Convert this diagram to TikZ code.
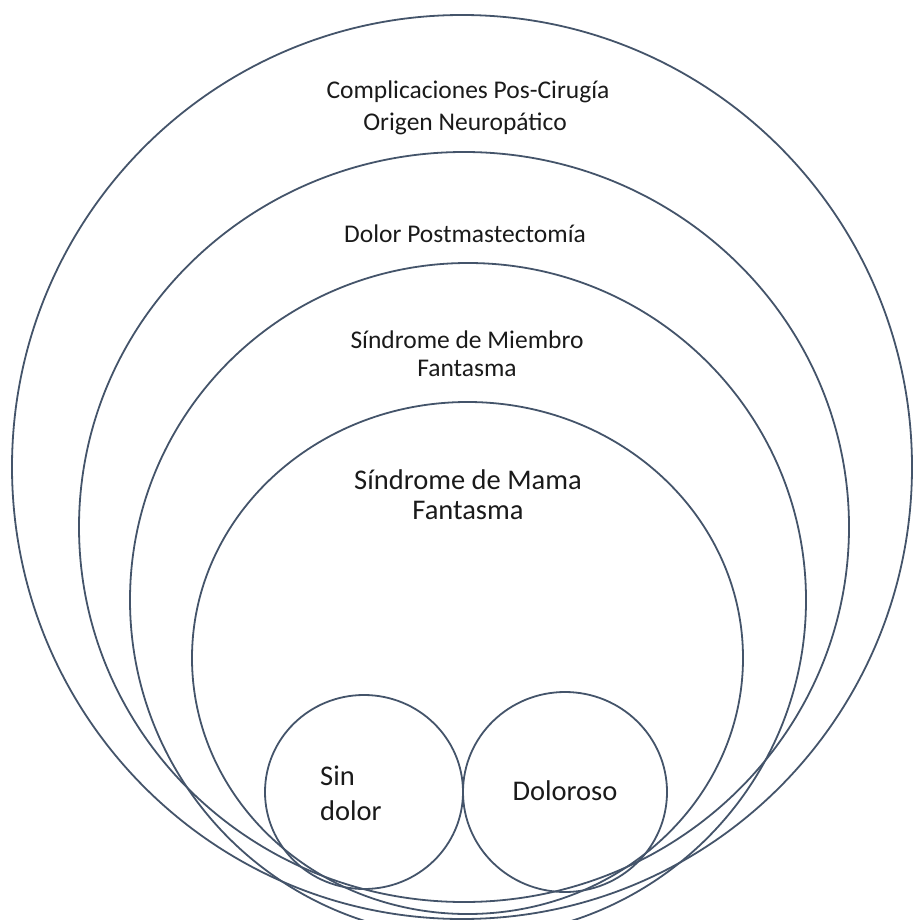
\documentclass[tikz,border=0pt]{standalone}
\usepackage{fontspec}
\setmainfont{Carlito}
\definecolor{ringcol}{HTML}{44546A}
\definecolor{txtcol}{HTML}{1A1A1A}
\begin{document}
\begin{tikzpicture}[x=1pt,y=-1pt,
  ring/.style={draw=ringcol, line width=1.8pt},
  lblA/.style={font=\fontsize{25.5}{31}\selectfont, text=txtcol, inner sep=0pt, anchor=base},
  lblB/.style={font=\fontsize{28.5}{34}\selectfont, text=txtcol, inner sep=0pt, anchor=base},
  lblBw/.style={lblB, anchor=base west}]
\useasboundingbox (0,0) rectangle (913,920);
% nested rings
\draw[ring] (462,467) ellipse [x radius=450, y radius=452];
\draw[ring] (464,527) ellipse [x radius=385, y radius=375];
\draw[ring] (468,600) ellipse [x radius=338, y radius=337];
\draw[ring] (467.5,658) ellipse [x radius=275.5, y radius=256];
% inner circles
\draw[ring] (364,792) ellipse [x radius=99, y radius=97];
\draw[ring] (565,792) ellipse [x radius=102, y radius=100];
% labels
\node[lblA] (t1) at (468,99) {Complicaciones Pos-Cirugía};
\node[lblA] (t2) at (465,131) {Origen Neuropático};
\node[lblA] (t3) at (465,242) {Dolor Postmastectomía};
\node[lblA] (t4a) at (467,348) {Síndrome de Miembro};
\node[lblA] (t4b) at (467,376) {Fantasma};
\node[lblB] (t5a) at (468,489) {Síndrome de Mama};
\node[lblB] (t5b) at (468,519) {Fantasma};
\node[lblBw] (t6a) at (320,785) {Sin};
\node[lblBw] (t6b) at (320,820) {dolor};
\node[lblB] (t7) at (565,800) {Doloroso};
\end{tikzpicture}
\end{document}
